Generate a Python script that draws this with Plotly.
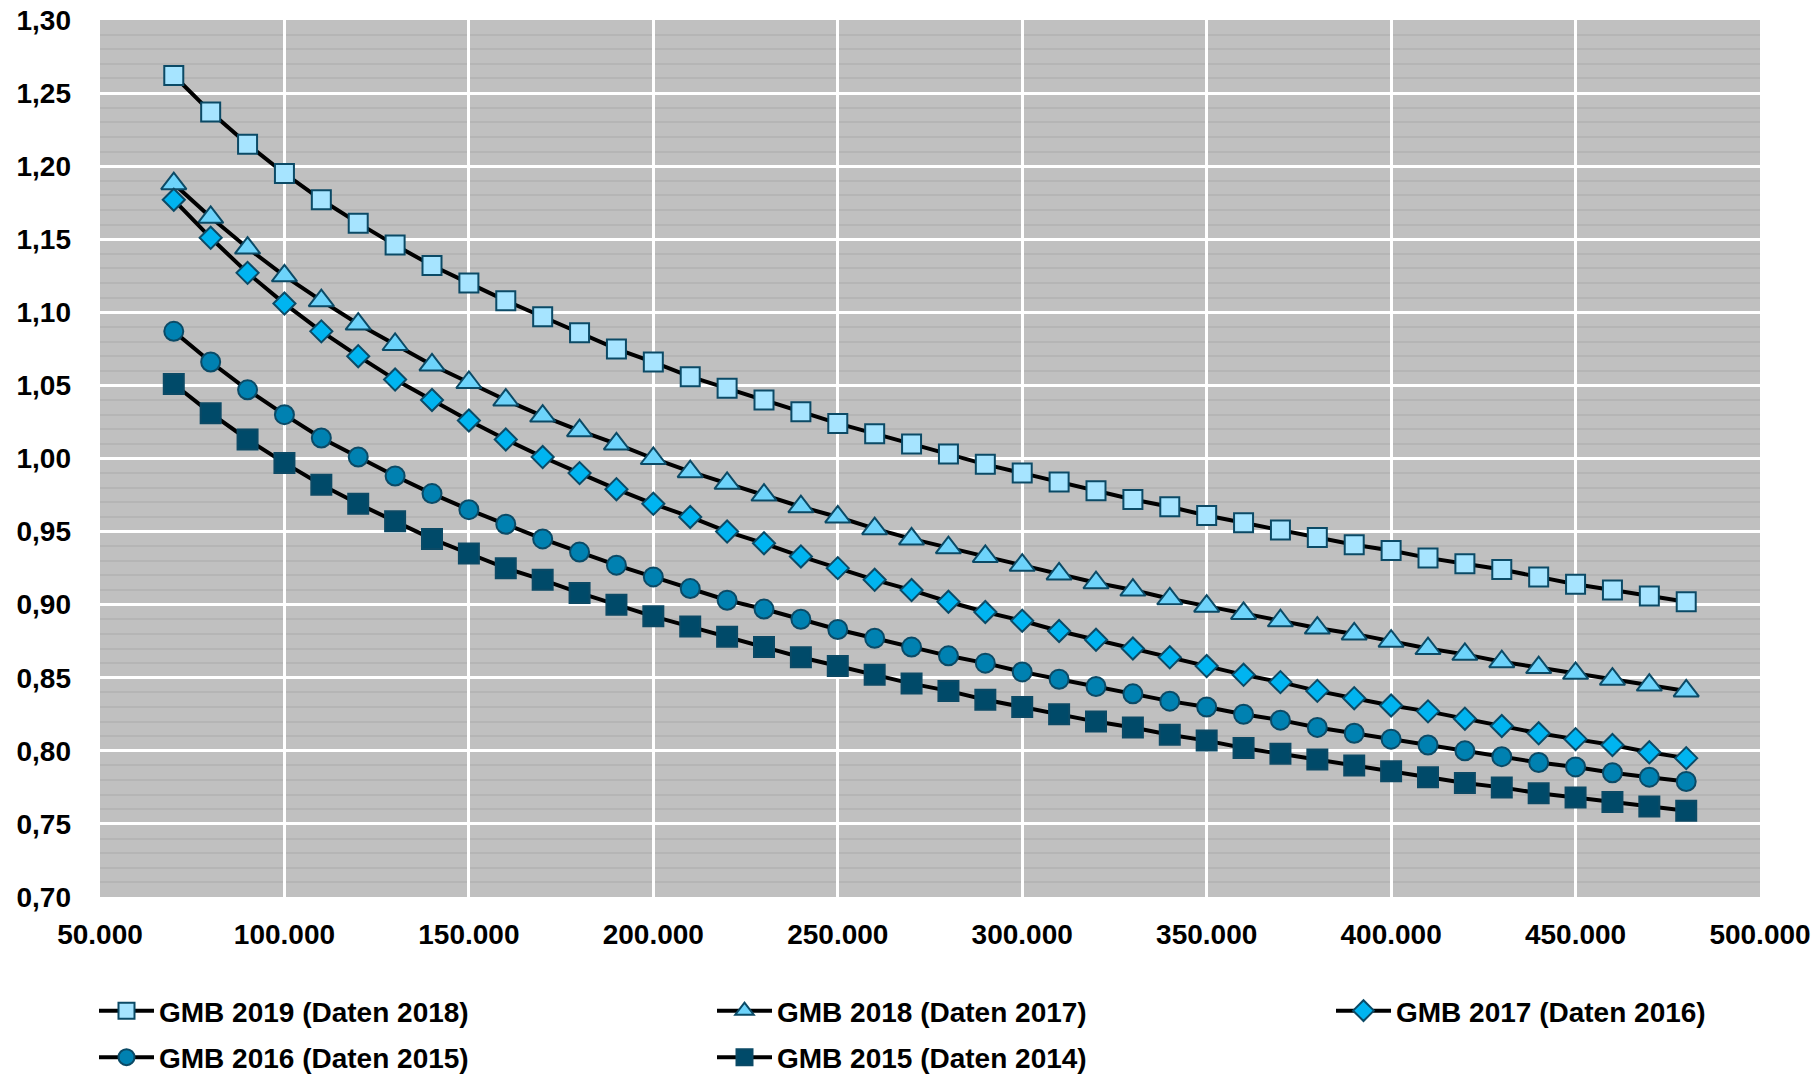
import plotly.graph_objects as go

x_values = list(range(70000, 480001, 10000))

gmb2019 = [1.262, 1.237, 1.215, 1.195, 1.177, 1.161, 1.146, 1.132, 1.120, 1.108,
           1.097, 1.086, 1.075, 1.066, 1.056, 1.048, 1.040, 1.032, 1.024, 1.017,
           1.010, 1.003, 0.996, 0.990, 0.984, 0.978, 0.972, 0.967, 0.961, 0.956,
           0.951, 0.946, 0.941, 0.937, 0.932, 0.928, 0.924, 0.919, 0.914, 0.910,
           0.906, 0.902]
gmb2018 = [1.188, 1.165, 1.144, 1.125, 1.108, 1.092, 1.078, 1.064, 1.052, 1.040,
           1.029, 1.019, 1.010, 1.000, 0.991, 0.983, 0.975, 0.967, 0.960, 0.952,
           0.945, 0.939, 0.933, 0.927, 0.921, 0.915, 0.910, 0.904, 0.899, 0.894,
           0.889, 0.884, 0.880, 0.875, 0.870, 0.866, 0.861, 0.857, 0.853, 0.849,
           0.845, 0.841]
gmb2017 = [1.177, 1.151, 1.127, 1.106, 1.087, 1.070, 1.054, 1.040, 1.026, 1.013,
           1.001, 0.990, 0.979, 0.969, 0.960, 0.950, 0.942, 0.933, 0.925, 0.917,
           0.910, 0.902, 0.895, 0.889, 0.882, 0.876, 0.870, 0.864, 0.858, 0.852,
           0.847, 0.841, 0.836, 0.831, 0.827, 0.822, 0.817, 0.812, 0.808, 0.804,
           0.799, 0.795]
gmb2016 = [1.087, 1.066, 1.047, 1.030, 1.014, 1.001, 0.988, 0.976, 0.965, 0.955,
           0.945, 0.936, 0.927, 0.919, 0.911, 0.903, 0.897, 0.890, 0.883, 0.877,
           0.871, 0.865, 0.860, 0.854, 0.849, 0.844, 0.839, 0.834, 0.830, 0.825,
           0.821, 0.816, 0.812, 0.808, 0.804, 0.800, 0.796, 0.792, 0.789, 0.785,
           0.782, 0.779]
gmb2015 = [1.051, 1.031, 1.013, 0.997, 0.982, 0.969, 0.957, 0.945, 0.935, 0.925,
           0.917, 0.908, 0.900, 0.892, 0.885, 0.878, 0.871, 0.864, 0.858, 0.852,
           0.846, 0.841, 0.835, 0.830, 0.825, 0.820, 0.816, 0.811, 0.807, 0.802,
           0.798, 0.794, 0.790, 0.786, 0.782, 0.778, 0.775, 0.771, 0.768, 0.765,
           0.762, 0.759]

series_names = ["GMB 2019 (Daten 2018)", "GMB 2018 (Daten 2017)", "GMB 2017 (Daten 2016)",
                "GMB 2016 (Daten 2015)", "GMB 2015 (Daten 2014)"]
series_values = [gmb2019, gmb2018, gmb2017, gmb2016, gmb2015]
symbols = ["square", "triangle-up", "diamond", "circle", "square"]
fills = ["#A6E4FF", "#6DD3FA", "#00B4F0", "#0081B1", "#004A69"]
sizes = [19, 22, 17, 19, 20]
legend_ids = ["legend", "legend2", "legend3", "legend4", "legend5"]
# legend slot: (left pixel, row)
legend_slots = [(86, 0), (704, 0), (1323, 0), (86, 1), (704, 1)]

edge = "#0B4A66"
font_family = "Liberation Sans, Arial, sans-serif"
FS = 28

fig = go.Figure()
for name, vals, sym, col, sz, lg in zip(series_names, series_values, symbols,
                                        fills, sizes, legend_ids):
    fig.add_trace(go.Scatter(
        x=x_values, y=vals, name=name, mode="lines+markers",
        line=dict(color="black", width=4),
        marker=dict(symbol=sym, size=sz, color=col, line=dict(color=edge, width=2)),
        legend=lg,
    ))

fig.add_shape(type="line", xref="paper", x0=0, x1=1, yref="y", y0=1.0, y1=1.0,
              line=dict(color="black", width=3), layer="between")

legend_font = dict(family=font_family, size=FS, color="black", weight="bold")
row_y = [0.0903, 0.0470]


def make_legend(xpix, row):
    return dict(
        orientation="h", xref="container", yref="container",
        x=xpix / 1820, y=row_y[row], xanchor="left", yanchor="top",
        itemwidth=55, font=legend_font, bgcolor="rgba(0,0,0,0)",
    )


legends = {}
for lg, (xpix, row) in zip(legend_ids, legend_slots):
    legends[lg] = make_legend(xpix, row)

fig.update_layout(
    width=1820, height=1075,
    margin=dict(l=92, r=68, t=12, b=186),
    paper_bgcolor="white",
    plot_bgcolor="#C0C0C0",
    separators=",.",
    font=dict(family=font_family, size=FS, color="black"),
    showlegend=True,
    xaxis=dict(
        range=[50000, 500000], dtick=50000, tick0=50000, tickformat=",d",
        showgrid=True, gridcolor="white", gridwidth=3, zeroline=False,
        showline=False, ticks="", ticklabelstandoff=18, automargin=False,
        tickangle=0, ticklabeloverflow="allow",
        tickfont=dict(family=font_family, size=FS, color="black", weight="bold"),
    ),
    yaxis=dict(
        range=[0.70, 1.30], dtick=0.05, tick0=0.70, tickformat=".2f",
        showgrid=True, gridcolor="white", gridwidth=3, zeroline=False,
        showline=False, ticks="", ticklabelstandoff=28, automargin=False,
        ticklabeloverflow="allow",
        tickfont=dict(family=font_family, size=FS, color="black", weight="bold"),
        minor=dict(dtick=0.01, showgrid=True, gridcolor="#B5B5B5", gridwidth=1.5),
    ),
    **legends,
)

fig.write_html("out.html")
